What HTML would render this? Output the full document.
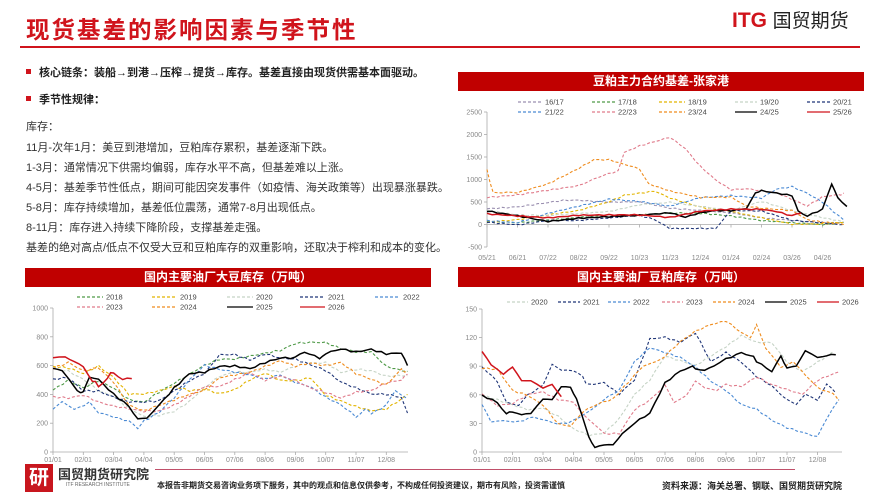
<!DOCTYPE html>
<html><head><meta charset="utf-8">
<style>
*{margin:0;padding:0;box-sizing:border-box}
body{width:889px;height:500px;background:#fff;position:relative;overflow:hidden;font-family:"Liberation Sans","Noto Sans CJK SC",sans-serif;color:#222}
.abs{position:absolute;white-space:nowrap}
.title{left:26px;top:11px;font-size:23.5px;font-weight:bold;color:#d0141c;letter-spacing:2px}
.tline{left:20px;top:46px;width:840px;height:2px;background:#d0141c}
.logo{left:732px;top:6px;font-size:20px}
.bul{font-size:11px;font-weight:bold}
.bul::before{content:"";display:inline-block;width:5px;height:5px;background:#d0141c;margin-right:8px;vertical-align:2px}
.tx{font-size:11px;color:#333;left:26px}
.bar{background:#c00000;color:#fff;font-weight:bold;font-size:12px;text-align:center;height:19px;line-height:19px}
svg{position:absolute;left:0;top:0}
</style></head><body>
<div class="abs title">现货基差的影响因素与季节性</div>
<div class="abs tline"></div>
<div class="abs logo"><span style="color:#d0141c;font-weight:bold;font-size:21px">ITG</span> <span style="color:#222;font-size:19px">国贸期货</span></div>
<div class="abs bul" style="left:26px;top:64px">核心链条：装船→到港→压榨→提货→库存。基差直接由现货供需基本面驱动。</div>
<div class="abs bul" style="left:26px;top:91px">季节性规律：</div>
<div class="abs tx" style="top:118px">库存：</div>
<div class="abs tx" style="top:139px">11月-次年1月：美豆到港增加，豆粕库存累积，基差逐渐下跌。</div>
<div class="abs tx" style="top:159px">1-3月：通常情况下供需均偏弱，库存水平不高，但基差难以上涨。</div>
<div class="abs tx" style="top:179px">4-5月：基差季节性低点，期间可能因突发事件（如疫情、海关政策等）出现暴涨暴跌。</div>
<div class="abs tx" style="top:199px">5-8月：库存持续增加，基差低位震荡，通常7-8月出现低点。</div>
<div class="abs tx" style="top:219px">8-11月：库存进入持续下降阶段，支撑基差走强。</div>
<div class="abs tx" style="top:239px">基差的绝对高点/低点不仅受大豆和豆粕库存的双重影响，还取决于榨利和成本的变化。</div>

<div class="abs bar" style="left:458px;top:72px;width:406px">豆粕主力合约基差-张家港</div>
<div class="abs" style="left:458px;top:267px;width:406px;height:2px;background:#c00000"></div>
<div class="abs bar" style="left:25px;top:268px;width:406px">国内主要油厂大豆库存（万吨）</div>
<div class="abs bar" style="left:458px;top:268px;width:406px">国内主要油厂豆粕库存（万吨）</div>

<div class="abs" style="left:25px;top:464px;width:28px;height:28px;background:#c8161e;color:#fff;font-size:20px;font-weight:bold;text-align:center;line-height:28px">研</div>
<div class="abs" style="left:58px;top:464px;font-size:13px;font-weight:bold;color:#333">国贸期货研究院</div>
<div class="abs" style="left:66px;top:482px;font-size:5px;color:#666">ITF RESEARCH INSTITUTE</div>
<div class="abs" style="left:155px;top:469px;width:640px;height:1px;background:#c0506a"></div>
<div class="abs" style="left:157px;top:480px;font-size:8px;font-weight:bold">本报告非期货交易咨询业务项下服务，其中的观点和信息仅供参考，不构成任何投资建议，期市有风险，投资需谨慎</div>
<div class="abs" style="left:662px;top:479px;font-size:9px;font-weight:bold">资料来源：海关总署、钢联、国贸期货研究院</div>

<svg id="s" width="889" height="500" xmlns="http://www.w3.org/2000/svg"></svg>
<script>
var S=document.getElementById('s'),h='';
function chart(c){
 var ys=function(v){return c.y0+(c.vmax-v)/(c.vmax-c.vmin)*(c.y1-c.y0)};
 var xs=function(t){return c.x0+t*c.dx};
 h+='<line x1="'+c.x0+'" y1="'+c.y0+'" x2="'+c.x0+'" y2="'+c.y1+'" stroke="#aaa" stroke-width="0.8"/>';
 h+='<line x1="'+c.x0+'" y1="'+ys(0)+'" x2="'+(c.x0+c.len)+'" y2="'+ys(0)+'" stroke="#aaa" stroke-width="0.8"/>';
 for(var v=c.vmin;v<=c.vmax;v+=c.step){var y=ys(v);h+='<line x1="'+(c.x0-3)+'" y1="'+y+'" x2="'+c.x0+'" y2="'+y+'" stroke="#aaa" stroke-width="0.8"/><text x="'+(c.x0-5)+'" y="'+(y+2.5)+'" font-size="7" fill="#888" text-anchor="end">'+v+'</text>';}
 c.xl.forEach(function(l,i){var x=xs(i);h+='<line x1="'+x+'" y1="'+ys(0)+'" x2="'+x+'" y2="'+(ys(0)+3)+'" stroke="#aaa" stroke-width="0.8"/><text x="'+x+'" y="'+c.xly+'" font-size="7" fill="#888" text-anchor="middle">'+l+'</text>';});
 c.ser.forEach(function(s,k){
  var p=[],pts=s.p;
  for(var i=0;i<pts.length-1;i++){var a=pts[i],b=pts[i+1],n=Math.max(2,Math.round((b[0]-a[0])*6));
   for(var j=0;j<n;j++){var f=j/n,t=a[0]+(b[0]-a[0])*f,v=a[1]+(b[1]-a[1])*f;
    var jit=(Math.sin(t*37+k*11)*0.5+Math.sin(t*91+k*3)*0.5)*c.jit; p.push(xs(t).toFixed(1)+','+ys(v+jit).toFixed(1));}}
  var L=pts[pts.length-1];p.push(xs(L[0]).toFixed(1)+','+ys(L[1]).toFixed(1));
  h+='<polyline points="'+p.join(' ')+'" fill="none" stroke="'+s.c+'" stroke-width="'+(s.d?1.1:1.5)+'"'+(s.d?' stroke-dasharray="3,2"':'')+'/>';
 });
 c.leg.forEach(function(l){var s=c.ser[l[0]];h+='<line x1="'+l[1]+'" y1="'+l[3]+'" x2="'+(l[1]+l[2])+'" y2="'+l[3]+'" stroke="'+s.c+'" stroke-width="1.3"'+(s.d?' stroke-dasharray="3,2"':'')+'/><text x="'+(l[1]+l[2]+3)+'" y="'+(l[3]+2.5)+'" font-size="7.5" fill="#444">'+s.n+'</text>';});
}
var C={pk:'#e07a8a',or:'#ef8c1e',ye:'#e2b400',gp:'#9a8fb0',gr:'#4f9a48',lg:'#c5d3c5',nv:'#1f3577',bl:'#4a8ad4',bk:'#000',rd:'#d0141c'};
var tr={x0:487,dx:30.5,len:350,y0:112,y1:247,vmin:-500,vmax:2500,step:500,xly:260,jit:25,
 xl:['05/21','06/21','07/22','08/22','09/22','10/23','11/23','12/24','01/24','02/24','03/26','04/26'],
 ser:[
 {n:'16/17',c:C.gp,d:1,p:[[0,350],[1,400],[2,500],[2.5,550],[3,550],[4,500],[5,500],[6,350],[7,300],[8,250],[9,150],[10,100],[11,50],[11.7,50]]},
 {n:'17/18',c:C.gr,d:1,p:[[0,80],[1,50],[2,100],[3,150],[4,200],[5,200],[6,250],[7,250],[8,200],[9,100],[10,50],[11,0],[11.7,50]]},
 {n:'18/19',c:C.ye,d:1,p:[[0,50],[1,100],[2,200],[3,300],[4,500],[4.5,650],[5,700],[5.5,750],[6,600],[7,400],[8,300],[9,150],[10,0],[11,0],[11.7,50]]},
 {n:'19/20',c:C.lg,d:1,p:[[0,300],[1,200],[2,200],[3,250],[4,300],[5,450],[6,500],[7,400],[8,300],[9,500],[10,300],[11,150],[11.7,50]]},
 {n:'20/21',c:C.nv,d:1,p:[[0,50],[1,0],[2,100],[3,100],[4,150],[5,200],[5.5,100],[6,-100],[7,-100],[7.5,-100],[8,300],[9,300],[10,100],[11,50],[11.7,0]]},
 {n:'21/22',c:C.bl,d:1,p:[[0,100],[1,50],[2,250],[3,400],[4,550],[5,500],[6,400],[7,600],[8,650],[9,600],[9.5,800],[10,850],[10.5,700],[11,500],[11.7,100]]},
 {n:'22/23',c:C.pk,d:1,p:[[0,600],[1,650],[2,750],[3,850],[3.8,1100],[4.3,1200],[4.5,1600],[5,1750],[5.5,1850],[6,1950],[6.5,1700],[7,1300],[7.5,1000],[8,780],[8.5,800],[9,750],[9.5,700],[10,550],[10.5,400],[11,600],[11.5,650],[11.7,700]]},
 {n:'23/24',c:C.or,d:1,p:[[0,1200],[0.2,700],[1,700],[2,900],[3,1250],[3.5,1450],[4,1450],[4.5,1350],[5,1250],[5.3,900],[6,750],[7,600],[8,600],[8.5,400],[9,350],[10,300],[10.5,100],[11,50],[11.7,0]]},
 {n:'24/25',c:C.bk,d:0,p:[[0,300],[1,200],[2,80],[3,150],[4,180],[5,200],[6,250],[6.5,150],[7,250],[7.5,300],[8,300],[8.5,350],[8.8,700],[9,750],[10,650],[10.2,300],[10.5,200],[11,350],[11.3,900],[11.5,600],[11.8,400]]},
 {n:'25/26',c:C.rd,d:0,p:[[0,250],[1,200],[2,150],[3,200],[4,200],[5,200],[6,150],[7,300],[8,350],[9,350],[9.5,300],[10,200],[10.3,250]]}],
 leg:[[0,518,24,102],[1,592,23,102],[2,659,26,102],[3,735,22,102],[4,807,23,102],[5,518,24,112],[6,592,23,112],[7,659,26,112],[8,735,22,112],[9,807,23,112]]};
chart(tr);
var bl={x0:53,dx:30.3,len:355,y0:308,y1:452,vmin:0,vmax:1000,step:200,xly:462,jit:12,
 xl:['01/01','02/01','03/04','04/04','05/05','06/05','07/06','08/06','09/06','10/07','11/07','12/08'],
 ser:[
 {n:'2018',c:C.gr,d:1,p:[[0,430],[0.5,500],[1,450],[1.5,500],[2,450],[2.5,370],[3,350],[3.5,420],[4,480],[5,600],[5.5,640],[6,640],[6.5,660],[7,680],[7.5,700],[8,750],[8.5,760],[9,760],[9.5,720],[10,700],[10.5,700],[11,600],[11.7,560]]},
 {n:'2019',c:C.ye,d:1,p:[[0,600],[0.5,590],[1,550],[1.5,600],[2,520],[2.5,400],[3,400],[3.5,420],[4,450],[4.5,420],[5,430],[5.5,400],[6,430],[6.5,500],[7,550],[7.5,500],[8,500],[8.5,520],[9,400],[10,320],[10.5,290],[11,300],[11.7,400]]},
 {n:'2020',c:C.lg,d:1,p:[[0,580],[0.5,560],[1,500],[1.5,420],[2,380],[2.5,300],[3,240],[3.5,250],[4,280],[4.5,350],[5,450],[5.5,530],[6,560],[6.5,560],[7,580],[7.5,560],[8,600],[8.5,620],[9,620],[9.5,550],[10,570],[10.5,560],[11,520],[11.7,530]]},
 {n:'2021',c:C.nv,d:1,p:[[0,500],[0.5,510],[1,420],[1.5,420],[2,380],[2.5,350],[3,350],[3.5,360],[4,430],[4.5,500],[5,550],[5.5,680],[6,680],[6.5,640],[7,680],[7.5,650],[8,640],[8.5,600],[9,560],[9.5,480],[10,440],[10.5,400],[11,400],[11.5,380],[11.7,270]]},
 {n:'2022',c:C.bl,d:1,p:[[0,300],[0.3,350],[0.7,290],[1.2,340],[1.5,280],[2,250],[2.5,220],[2.8,160],[3,220],[3.5,280],[4,380],[4.5,500],[5,600],[5.5,570],[6,550],[6.5,530],[7,500],[7.5,530],[8,480],[8.5,450],[9,380],[9.5,330],[10,250],[10.3,300],[10.5,270],[11,330],[11.3,430],[11.7,370]]},
 {n:'2023',c:C.pk,d:1,p:[[0,390],[0.5,380],[1,400],[1.5,350],[2,320],[2.5,300],[3,280],[3.5,280],[4,320],[4.5,380],[5,450],[5.5,450],[6,500],[6.5,550],[7,500],[7.5,530],[8,500],[8.5,450],[9,420],[9.5,380],[10,420],[10.5,430],[11,480],[11.5,500],[11.7,540]]},
 {n:'2024',c:C.or,d:1,p:[[0,580],[0.5,620],[1,560],[1.5,580],[2,480],[2.5,320],[3,280],[3.5,320],[4,360],[4.5,400],[5,430],[5.5,520],[6,540],[6.5,560],[7,600],[7.5,640],[8,600],[8.5,620],[9,600],[9.5,620],[10,540],[10.5,500],[11,460],[11.5,570],[11.7,560]]},
 {n:'2025',c:C.bk,d:0,p:[[0,570],[0.3,570],[0.7,450],[0.9,410],[1,420],[1.2,520],[1.5,500],[2,400],[2.5,320],[2.8,240],[3.1,230],[3.5,330],[4,450],[4.5,550],[5,560],[5.5,600],[6,600],[6.5,580],[7,620],[7.5,650],[8,650],[8.3,690],[8.8,650],[9,680],[9.5,710],[10,690],[10.5,710],[11,680],[11.5,690],[11.7,600]]},
 {n:'2026',c:C.rd,d:0,p:[[0,660],[0.4,660],[1,590],[1.3,500],[1.5,460],[1.8,520],[2,560],[2.3,500],[2.6,510]]}],
 leg:[[0,77,26,297],[1,152,25,297],[2,227,26,297],[3,300,25,297],[4,375,25,297],[5,77,26,307],[6,152,25,307],[7,227,26,307],[8,300,25,307]]};
chart(bl);
var br={x0:482,dx:30.5,len:360,y0:309,y1:452,vmin:0,vmax:150,step:30,xly:462,jit:1.5,
 xl:['01/01','02/01','03/04','04/04','05/05','06/05','07/06','08/06','09/06','10/07','11/07','12/08'],
 ser:[
 {n:'2020',c:C.lg,d:1,p:[[0,60],[0.5,55],[1,50],[1.5,45],[2,47],[2.5,38],[3,25],[3.5,18],[4,20],[4.5,35],[5,60],[5.5,75],[6,100],[6.5,95],[7,90],[7.5,100],[8,110],[8.5,122],[9,115],[9.5,115],[10,95],[10.5,85],[11,95],[11.5,105]]},
 {n:'2021',c:C.nv,d:1,p:[[0,90],[0.5,75],[0.8,52],[1.2,50],[1.5,60],[2,70],[2.3,92],[2.6,85],[3,85],[3.3,78],[3.5,70],[4,72],[4.5,60],[5,75],[5.5,118],[6,120],[6.5,115],[7,125],[7.5,95],[8,105],[8.5,95],[9,80],[9.5,70],[10,55],[10.3,50],[10.6,60],[11,55],[11.3,70],[11.6,62]]},
 {n:'2022',c:C.bl,d:1,p:[[0,50],[0.3,30],[0.7,33],[1.2,32],[1.7,37],[2.3,30],[2.8,30],[3.2,35],[3.6,45],[4,55],[4.5,65],[5,95],[5.5,110],[6,105],[6.5,100],[7,90],[7.5,75],[8,65],[8.5,50],[9,45],[9.5,33],[10,25],[10.5,20],[11,15],[11.3,35],[11.7,55]]},
 {n:'2023',c:C.pk,d:1,p:[[0,60],[0.5,48],[1,50],[1.5,60],[2,63],[2.5,55],[3,53],[3.3,40],[3.7,28],[4,20],[4.5,20],[5,45],[5.5,55],[6,70],[6.3,52],[6.7,60],[7,75],[7.3,66],[7.7,65],[8,70],[8.5,68],[9,78],[9.5,70],[10,65],[10.5,60],[11,75],[11.5,82],[11.7,84]]},
 {n:'2024',c:C.or,d:1,p:[[0,88],[0.5,87],[1,65],[1.5,60],[2,50],[2.5,30],[2.9,27],[3.3,42],[3.8,50],[4.3,55],[5,80],[5.3,90],[5.7,95],[6,100],[6.5,115],[7,126],[7.5,133],[8,137],[8.5,125],[8.8,120],[9,133],[9.3,110],[9.8,90],[10.2,95],[10.6,80],[11,68],[11.5,62],[11.7,54]]},
 {n:'2025',c:C.bk,d:0,p:[[0,60],[0.5,53],[0.8,40],[1,43],[1.3,38],[1.6,40],[2,55],[2.3,55],[2.6,68],[2.9,68],[3.1,55],[3.5,15],[3.7,5],[4,6],[4.3,8],[4.6,20],[5,30],[5.5,40],[6,72],[6.5,85],[6.8,90],[7,88],[7.3,86],[7.6,90],[8,98],[8.5,105],[8.8,102],[9,96],[9.5,85],[9.8,100],[10,88],[10.3,90],[10.6,106],[11,100],[11.3,100],[11.6,102]]},
 {n:'2026',c:C.rd,d:0,p:[[0,106],[0.3,90],[0.7,82],[1,88],[1.3,75],[1.6,75],[2,67],[2.3,70],[2.6,58]]}],
 leg:[[0,507,21,302],[1,558,22,302],[2,608,22,302],[3,662,21,302],[4,713,22,302],[5,765,22,302],[6,817,22,302]]};
chart(br);
S.innerHTML=h;
</script>
</body></html>
